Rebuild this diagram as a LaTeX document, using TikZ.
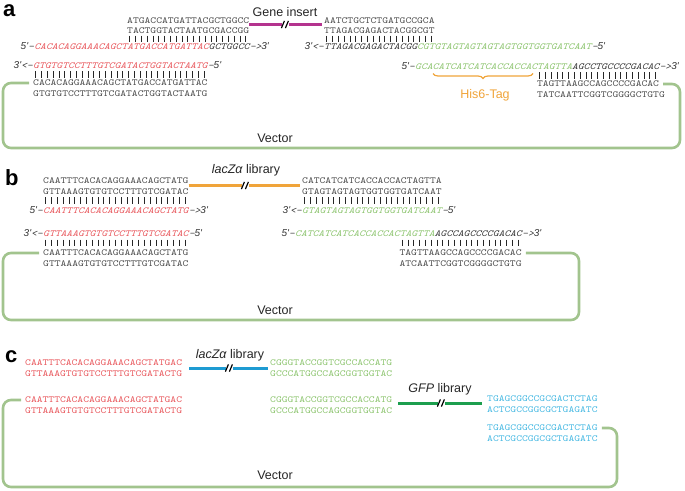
\documentclass[tikz,border=0pt]{standalone}
\usepackage{fontspec}
\setmainfont{Liberation Sans}
\newfontfamily\sfit{Liberation Sans}
\newfontfamily\seqfont[FakeStretch=1.19]{lmmono10-regular.otf}
\newfontfamily\seqitfont[FakeStretch=1.19]{lmmono10-italic.otf}
\usetikzlibrary{decorations.pathreplacing}
\definecolor{seqgray}{HTML}{4A4A4A}
\definecolor{sred}{HTML}{E8565B}
\definecolor{sgreen}{HTML}{8CC46E}
\definecolor{vecgreen}{HTML}{A2C48E}
\definecolor{mag}{HTML}{B4338E}
\definecolor{orng}{HTML}{F0A43A}
\definecolor{blu}{HTML}{1E9BD2}
\definecolor{scyan}{HTML}{45B8E2}
\definecolor{gfpg}{HTML}{1C9E4E}
\newcommand\pfive{{\sfit\itshape\fontsize{10}{12}\selectfont 5'}-}
\newcommand\pthree{{\sfit\itshape\fontsize{10}{12}\selectfont 3'}<-}
\newcommand\sthree{->{\sfit\itshape\fontsize{10}{12}\selectfont 3'}}
\newcommand\sfive{-{\sfit\itshape\fontsize{10}{12}\selectfont 5'}}
\newcommand\tickrow[3]{\foreach \i in {1,...,#3}{\draw[tickst] ({#1+(\i-0.5)*5.8},{#2-3.4}) -- ++(0,6.8);}}
\newcommand\brkmark[2]{%
  \draw[line width=1.2pt,black] ({#1-3.6},{#2+3.6}) -- ({#1-0.6},{#2-3.6});
  \draw[line width=1.2pt,black] ({#1+0.4},{#2+3.6}) -- ({#1+3.4},{#2-3.6});}
\begin{document}
\begin{tikzpicture}[x=1pt,y=-1pt,
  seq/.style={inner sep=0pt, anchor=west, font={\seqfont\fontsize{9.3}{11}\selectfont}, text=seqgray},
  pri/.style={inner sep=0pt, anchor=west, font={\seqitfont\fontsize{9.3}{11}\selectfont}, text=black!80},
  pre/.style={inner sep=0pt, anchor=base east, font={\seqitfont\fontsize{9.3}{11}\selectfont}, text=black!80},
  suf/.style={inner sep=0pt, anchor=base west, font={\seqitfont\fontsize{9.3}{11}\selectfont}, text=black!80},
  lab/.style={inner sep=0pt, font={\fontsize{12.5}{14}\selectfont}, text=black!85},
  panel/.style={inner sep=0pt, anchor=base west, font={\bfseries\fontsize{22}{24}\selectfont}},
  vec/.style={draw=vecgreen, line width=2.6pt, rounded corners=8pt},
  ins/.style={line width=3pt},
  tickst/.style={draw=black!85, line width=1.1pt}]
\useasboundingbox (0,0) rectangle (685,490);

% ---------------- panel a ----------------
\node[panel] (pa) at (3,16) {a};
\node[seq] (a1) at (127,20.5) {ATGACCATGATTACGCTGGCC};
\node[seq] (a2) at (127,30.5) {TACTGGTACTAATGCGACCGG};
\tickrow{127}{39}{21}
\node[pri] (a3) at (34.2,47) {\color{sred}CACACAGGAAACAGCTATGACCATGATTAC\color{black!80}GCTGGCC};
\node[pre] (a3p) at (a3.base west) {\pfive};
\node[suf] (a3s) at (a3.base east) {\sthree};

\node[seq] (b1) at (324,20.5) {AATCTGCTCTGATGCCGCA};
\node[seq] (b2) at (324,30.5) {TTAGACGAGACTACGGCGT};
\tickrow{324}{39}{19}
\node[pri] (b3) at (324,47) {TTAGACGAGACTACGG\color{sgreen}CGTGTAGTAGTAGTAGTGGTGGTGATCAAT};
\node[pre] (b3p) at (b3.base west) {\pthree};
\node[suf] (b3s) at (b3.base east) {\sfive};

\node[lab] (gi) at (285,12) {Gene insert};
\coordinate (ga1) at (281.5,24.5);
\coordinate (ga2) at (288.5,24.5);
\draw[ins,draw=mag] ([yshift=-4pt]a1.east) -- (ga1);
\draw[ins,draw=mag] (ga2) -- ([xshift=-2pt,yshift=-4pt]b1.west);
\brkmark{285}{24.5}

\node[pri] (c3) at (33,66) {\color{sred}GTGTGTCCTTTGTCGATACTGGTACTAATG};
\node[pre] (c3p) at (c3.base west) {\pthree};
\node[suf] (c3s) at (c3.base east) {\sfive};
\tickrow{33}{74.5}{30}
\node[seq] (c1) at (33,83) {CACACAGGAAACAGCTATGACCATGATTAC};
\node[seq] (c2) at (33,93.5) {GTGTGTCCTTTGTCGATACTGGTACTAATG};

\node[pri] (d3) at (415,67) {\color{sgreen}GCACATCATCATCACCACCACTAGTTA\color{black!80}AGCCTGCCCCGACAC};
\node[pre] (d3p) at (d3.base west) {\pfive};
\node[suf] (d3s) at (d3.base east) {\sthree};
\tickrow{536.8}{75.5}{21}
\node[seq] (d1) at (536.8,84) {TAGTTAAGCCAGCCCCGACAC};
\node[seq] (d2) at (536.8,94.5) {TATCAATTCGGTCGGGGCTGTG};
\draw[orng, line width=1.2pt, decorate, decoration={brace, mirror, amplitude=5pt}] (433,73.5) -- (533,73.5);
\node[lab, text=orng] (his) at (485,95) {His6-Tag};

\coordinate (vaL) at (3,148);
\coordinate (vaR) at (680,148);
\draw[vec] ([xshift=-4pt]c1.west) -| (vaL) -| (vaR |- d1.east) -- ([xshift=4pt]d1.east);
\node[lab] (vA) at (275,138) {Vector};

% ---------------- panel b ----------------
\node[panel] (pb) at (5,185) {b};
\node[seq] (e1) at (43,181) {CAATTTCACACAGGAAACAGCTATG};
\node[seq] (e2) at (43,192) {GTTAAAGTGTGTCCTTTGTCGATAC};
\tickrow{43}{200.5}{25}
\node[pri] (e3) at (43,211) {\color{sred}CAATTTCACACAGGAAACAGCTATG};
\node[pre] (e3p) at (e3.base west) {\pfive};
\node[suf] (e3s) at (e3.base east) {\sthree};

\node[seq] (f1) at (302,181) {CATCATCATCACCACCACTAGTTA};
\node[seq] (f2) at (302,192) {GTAGTAGTAGTGGTGGTGATCAAT};
\tickrow{302}{200.5}{24}
\node[pri] (f3) at (302,211) {\color{sgreen}GTAGTAGTAGTGGTGGTGATCAAT};
\node[pre] (f3p) at (f3.base west) {\pthree};
\node[suf] (f3s) at (f3.base east) {\sfive};

\node[lab] (lzb) at (246,170) {\itshape lacZα\upshape\ library};
\coordinate (lb1) at (241.5,185.5);
\coordinate (lb2) at (248.5,185.5);
\draw[ins,draw=orng] ([yshift=-4.5pt]e1.east) -- (lb1);
\draw[ins,draw=orng] (lb2) -- ([xshift=-2pt,yshift=-4.5pt]f1.west);
\brkmark{245}{185.5}

\node[pri] (g3) at (43,234) {\color{sred}GTTAAAGTGTGTCCTTTGTCGATAC};
\node[pre] (g3p) at (g3.base west) {\pthree};
\node[suf] (g3s) at (g3.base east) {\sfive};
\tickrow{43}{243}{25}
\node[seq] (g1) at (43,253) {CAATTTCACACAGGAAACAGCTATG};
\node[seq] (g2) at (43,263.5) {GTTAAAGTGTGTCCTTTGTCGATAC};

\node[pri] (h3) at (295,234) {\color{sgreen}CATCATCATCACCACCACTAGTTA\color{black!80}AGCCAGCCCCGACAC};
\node[pre] (h3p) at (h3.base west) {\pfive};
\node[suf] (h3s) at (h3.base east) {\sthree};
\tickrow{399.4}{243}{21}
\node[seq] (h1) at (399.4,253) {TAGTTAAGCCAGCCCCGACAC};
\node[seq] (h2) at (399.4,263.5) {ATCAATTCGGTCGGGGCTGTG};

\coordinate (vbL) at (3,320);
\coordinate (vbR) at (579,320);
\draw[vec] ([xshift=-4pt]g1.west) -| (vbL) -| (vbR |- h1.east) -- ([xshift=4pt]h1.east);
\node[lab] (vB) at (275,310) {Vector};

% ---------------- panel c ----------------
\node[panel] (pc) at (5,362) {c};
\node[seq, text=sred] (i1) at (25,363) {CAATTTCACACAGGAAACAGCTATGAC};
\node[seq, text=sred] (i2) at (25,374) {GTTAAAGTGTGTCCTTTGTCGATACTG};
\node[seq, text=sgreen] (j1) at (270,363) {CGGGTACCGGTCGCCACCATG};
\node[seq, text=sgreen] (j2) at (270,374) {GCCCATGGCCAGCGGTGGTAC};
\node[lab] (lzc) at (230,355) {\itshape lacZα\upshape\ library};
\coordinate (lc1) at (225.5,368);
\coordinate (lc2) at (232.5,368);
\draw[ins,draw=blu] ([xshift=7pt,yshift=-5pt]i1.east) -- (lc1);
\draw[ins,draw=blu] (lc2) -- ([xshift=-2pt,yshift=-5pt]j1.west);
\brkmark{229}{368}

\node[seq, text=sred] (k1) at (25,400) {CAATTTCACACAGGAAACAGCTATGAC};
\node[seq, text=sred] (k2) at (25,410.5) {GTTAAAGTGTGTCCTTTGTCGATACTG};
\node[seq, text=sgreen] (l1) at (270,400) {CGGGTACCGGTCGCCACCATG};
\node[seq, text=sgreen] (l2) at (270,410.5) {GCCCATGGCCAGCGGTGGTAC};

\node[seq, text=scyan] (m1) at (487,399) {TGAGCGGCCGCGACTCTAG};
\node[seq, text=scyan] (m2) at (487,410) {ACTCGCCGGCGCTGAGATC};
\node[seq, text=scyan] (n1) at (487,428) {TGAGCGGCCGCGACTCTAG};
\node[seq, text=scyan] (n2) at (487,439) {ACTCGCCGGCGCTGAGATC};

\node[lab] (gfp) at (440,389) {\itshape GFP\upshape\ library};
\coordinate (gf1) at (437.5,403);
\coordinate (gf2) at (444.5,403);
\draw[ins,draw=gfpg] ([xshift=6pt,yshift=-3pt]l1.east) -- (gf1);
\draw[ins,draw=gfpg] (gf2) -- ([xshift=-5pt,yshift=-4pt]m1.west);
\brkmark{441}{403}

\coordinate (vcL) at (3,487);
\coordinate (vcR) at (617,487);
\draw[vec] ([xshift=-4pt]k1.west) -| (vcL) -| (vcR |- n1.east) -- ([xshift=4pt]n1.east);
\node[lab] (vC) at (275,475) {Vector};
\end{tikzpicture}
\end{document}
